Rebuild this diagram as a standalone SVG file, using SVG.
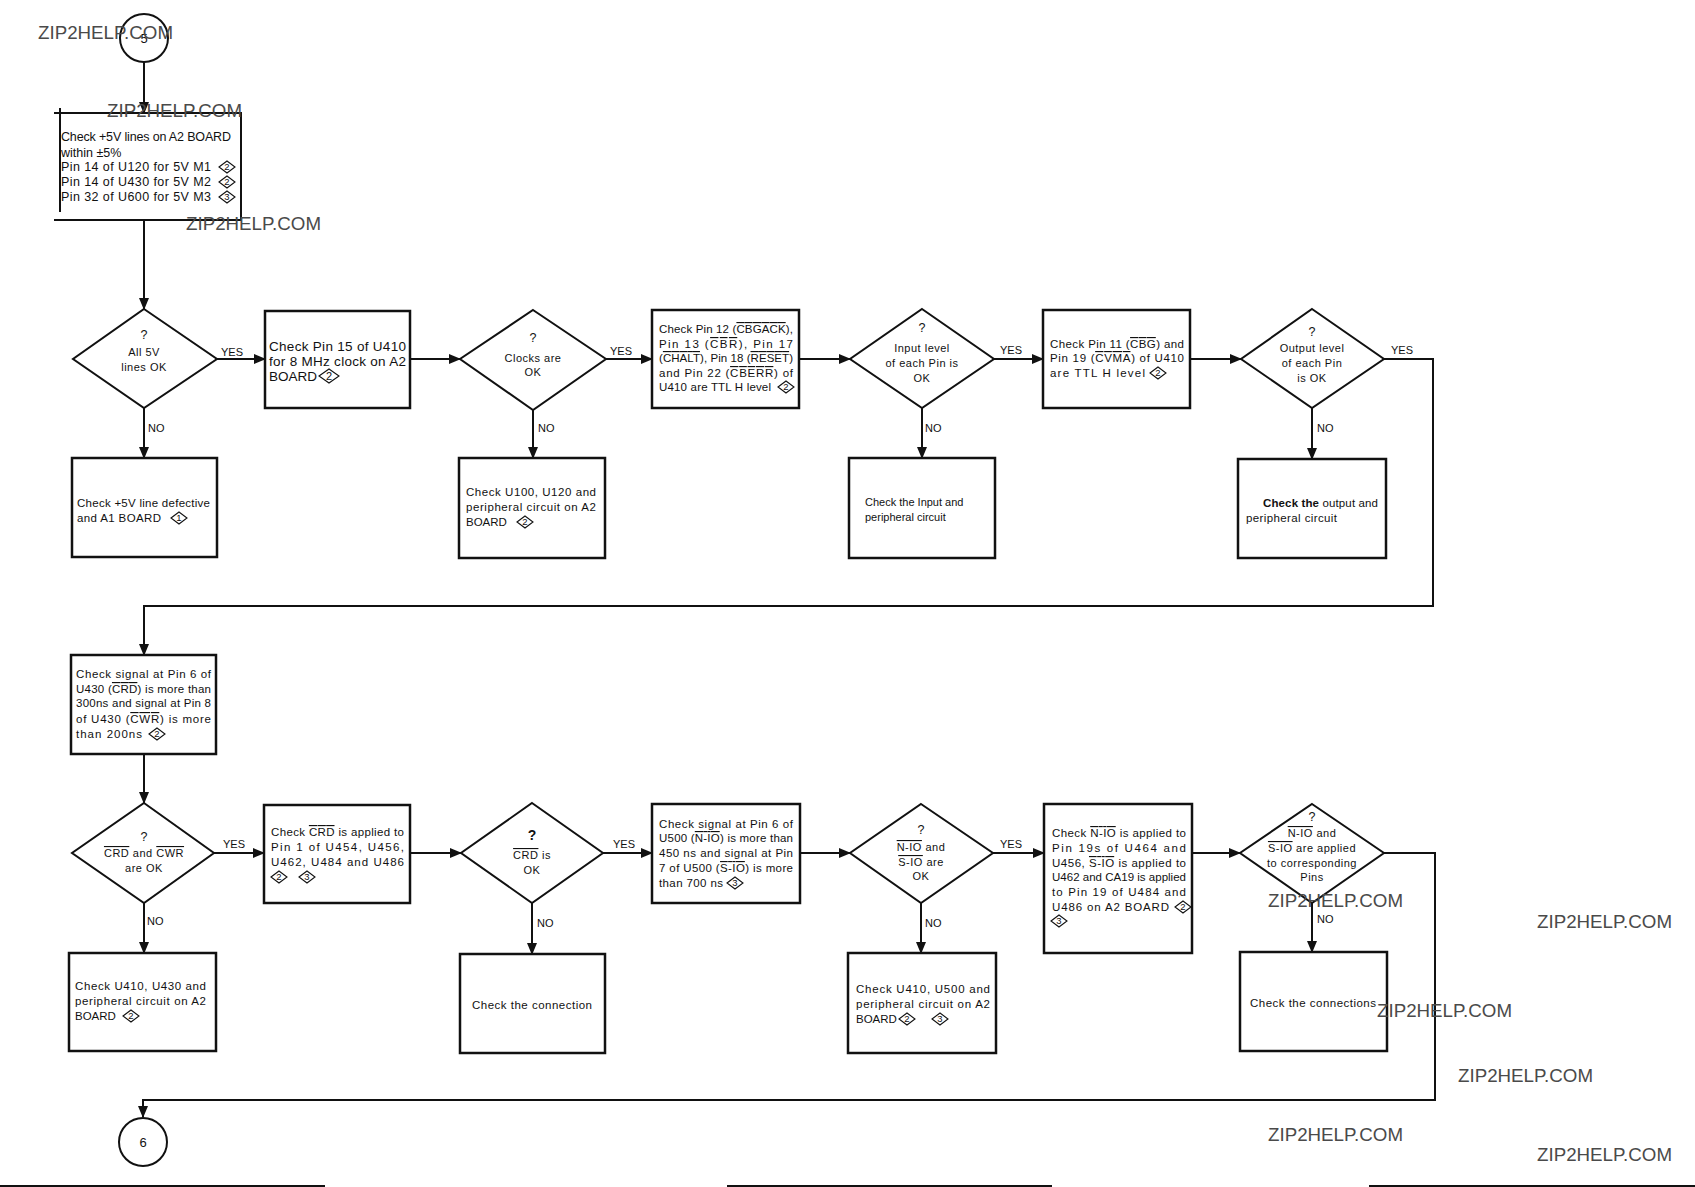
<svg xmlns="http://www.w3.org/2000/svg" width="1695" height="1187" viewBox="0 0 1695 1187">
<style>
text{font-family:"Liberation Sans",Arial,Helvetica,sans-serif;fill:#111}
.t{font-size:11.5px}
.t1{font-size:12.5px}
.t2{font-size:13.5px}
.dt{font-size:11px;text-anchor:middle;letter-spacing:0.5px}
.q{font-size:12.5px;text-anchor:middle}
.lb{font-size:11px}
.box{fill:#fff;stroke:#111;stroke-width:2.5}
.dia{fill:#fff;stroke:#111;stroke-width:2}
.cir{fill:#fff;stroke:#111;stroke-width:2}
.bd polygon{fill:#fff;stroke:#111;stroke-width:1.1}
.bd text{font-size:9.5px;text-anchor:middle}
.ov{text-decoration:overline}
#connectors path{fill:none;stroke:#111;stroke-width:2}
.edge{fill:none;stroke:#111;stroke-width:2}
.wm{font-size:18.5px;fill:#4a4a4a}
</style>
<defs>
<marker id="ah" markerWidth="12" markerHeight="10" refX="11" refY="5" orient="auto" markerUnits="userSpaceOnUse"><path d="M0,0 L12,5 L0,10 z" fill="#111"/></marker>
</defs>
<rect width="1695" height="1187" fill="#fff"/>

<g id="connectors">
<path d="M144 62 V113" marker-end="url(#ah)"/>
<path d="M144 220 V309" marker-end="url(#ah)"/>
<path d="M217 359 H265" marker-end="url(#ah)"/>
<path d="M144 408 V458" marker-end="url(#ah)"/>
<path d="M410 359 H460" marker-end="url(#ah)"/>
<path d="M606 359 H652" marker-end="url(#ah)"/>
<path d="M533 410 V458" marker-end="url(#ah)"/>
<path d="M799 359 H850" marker-end="url(#ah)"/>
<path d="M994 359 H1043" marker-end="url(#ah)"/>
<path d="M922 408 V458" marker-end="url(#ah)"/>
<path d="M1190 359 H1241" marker-end="url(#ah)"/>
<path d="M1312 408 V459" marker-end="url(#ah)"/>
<path d="M1384 359 H1433 V606 H144 V655" marker-end="url(#ah)"/>
<path d="M144 754 V803" marker-end="url(#ah)"/>
<path d="M214 853 H264" marker-end="url(#ah)"/>
<path d="M144 903 V953" marker-end="url(#ah)"/>
<path d="M410 853 H461" marker-end="url(#ah)"/>
<path d="M603 853 H652" marker-end="url(#ah)"/>
<path d="M532 903 V954" marker-end="url(#ah)"/>
<path d="M800 853 H850" marker-end="url(#ah)"/>
<path d="M993 853 H1044" marker-end="url(#ah)"/>
<path d="M921 903 V953" marker-end="url(#ah)"/>
<path d="M1192 853 H1240" marker-end="url(#ah)"/>
<path d="M1312 903 V952" marker-end="url(#ah)"/>
<path d="M1384 853 H1435 V1100 H143 V1117" marker-end="url(#ah)"/>
<text class="lb" x="221" y="356">YES</text>
<text class="lb" x="610" y="355">YES</text>
<text class="lb" x="1000" y="354">YES</text>
<text class="lb" x="1391" y="354">YES</text>
<text class="lb" x="223" y="848">YES</text>
<text class="lb" x="613" y="848">YES</text>
<text class="lb" x="1000" y="848">YES</text>
<text class="lb" x="148" y="432">NO</text>
<text class="lb" x="538" y="432">NO</text>
<text class="lb" x="925" y="432">NO</text>
<text class="lb" x="1317" y="432">NO</text>
<text class="lb" x="147" y="925">NO</text>
<text class="lb" x="537" y="927">NO</text>
<text class="lb" x="925" y="927">NO</text>
<text class="lb" x="1317" y="923">NO</text>
</g>

<g id="start5">
<circle class="cir" cx="144" cy="38" r="24"/>
<text x="144" y="43" font-size="13" text-anchor="middle">5</text>
</g>

<g id="box-check5v">
<path class="edge" d="M54 113 H241 V220 H54 M60 108 V212" stroke-width="2.5"/>
<text class="t1" x="61" y="141" textLength="170" lengthAdjust="spacing">Check +5V lines on A2 BOARD</text>
<text class="t1" x="61" y="157">within ±5%</text>
<text class="t1" x="61" y="171" textLength="150" lengthAdjust="spacing">Pin 14 of U120 for 5V M1</text>
<text class="t1" x="61" y="186" textLength="150" lengthAdjust="spacing">Pin 14 of U430 for 5V M2</text>
<text class="t1" x="61" y="201" textLength="150" lengthAdjust="spacing">Pin 32 of U600 for 5V M3</text>
<g class="bd" transform="translate(227,167)"><polygon points="-8,0 0,-6 8,0 0,6"/><text y="3.3">2</text></g>
<g class="bd" transform="translate(227,182)"><polygon points="-8,0 0,-6 8,0 0,6"/><text y="3.3">2</text></g>
<g class="bd" transform="translate(227,197)"><polygon points="-8,0 0,-6 8,0 0,6"/><text y="3.3">3</text></g>
</g>

<g id="dec-all5v">
<polygon class="dia" points="144,309 217,359 144,408 73,359"/>
<text class="q" x="144" y="339">?</text>
<text class="dt" x="144" y="356">All 5V</text>
<text class="dt" x="144" y="371">lines OK</text>
</g>

<g id="box-5vdefective">
<rect class="box" x="72" y="458" width="145" height="99"/>
<text class="t" x="77" y="507" textLength="133" lengthAdjust="spacing">Check +5V line defective</text>
<text class="t" x="77" y="522" textLength="84" lengthAdjust="spacing">and A1 BOARD</text>
<g class="bd" transform="translate(179,518)"><polygon points="-8,0 0,-6 8,0 0,6"/><text y="3.3">1</text></g>
</g>

<g id="box-pin15">
<rect class="box" x="265" y="311" width="145" height="97"/>
<text class="t2" x="269" y="351" textLength="137" lengthAdjust="spacing">Check Pin 15 of U410</text>
<text class="t2" x="269" y="366" textLength="137" lengthAdjust="spacing">for 8 MHz clock on A2</text>
<text class="t2" x="269" y="381">BOARD</text>
<g class="bd" transform="translate(329,376)"><polygon points="-10,0 0,-7 10,0 0,7"/><text y="3.8" style="font-size:11px">2</text></g>
</g>

<g id="dec-clocks">
<polygon class="dia" points="533,310 606,359 533,410 460,359"/>
<text class="q" x="533" y="342">?</text>
<text class="dt" x="533" y="362">Clocks are</text>
<text class="dt" x="533" y="376">OK</text>
</g>

<g id="box-u100">
<rect class="box" x="459" y="458" width="146" height="100"/>
<text class="t" x="466" y="496" textLength="130" lengthAdjust="spacing">Check U100, U120 and</text>
<text class="t" x="466" y="511" textLength="130" lengthAdjust="spacing">peripheral circuit on A2</text>
<text class="t" x="466" y="526">BOARD</text>
<g class="bd" transform="translate(525,522)"><polygon points="-8,0 0,-6 8,0 0,6"/><text y="3.3">2</text></g>
</g>

<g id="box-pin12">
<rect class="box" x="652" y="310" width="147" height="98"/>
<text class="t" x="659" y="333" textLength="134" lengthAdjust="spacing">Check Pin 12 (<tspan class="ov">CBGACK</tspan>),</text>
<text class="t" x="659" y="348" textLength="134" lengthAdjust="spacing">Pin 13 (<tspan class="ov">CBR</tspan>), Pin 17</text>
<text class="t" x="659" y="362" textLength="134" lengthAdjust="spacing">(<tspan class="ov">CHALT</tspan>), Pin 18 (<tspan class="ov">RESET</tspan>)</text>
<text class="t" x="659" y="377" textLength="134" lengthAdjust="spacing">and Pin 22 (<tspan class="ov">CBERR</tspan>) of</text>
<text class="t" x="659" y="391" textLength="112" lengthAdjust="spacing">U410 are TTL H level</text>
<g class="bd" transform="translate(786,387)"><polygon points="-8,0 0,-6 8,0 0,6"/><text y="3.3">2</text></g>
</g>

<g id="dec-input">
<polygon class="dia" points="922,309 994,359 922,408 850,359"/>
<text class="q" x="922" y="332">?</text>
<text class="dt" x="922" y="352">Input level</text>
<text class="dt" x="922" y="367">of each Pin is</text>
<text class="dt" x="922" y="382">OK</text>
</g>

<g id="box-input">
<rect class="box" x="849" y="458" width="146" height="100"/>
<text x="865" y="506" font-size="11">Check the Input and</text>
<text x="865" y="521" font-size="11">peripheral circuit</text>
</g>

<g id="box-pin11">
<rect class="box" x="1043" y="310" width="147" height="98"/>
<text class="t" x="1050" y="348" textLength="134" lengthAdjust="spacing">Check Pin 11 (<tspan class="ov">CBG</tspan>) and</text>
<text class="t" x="1050" y="362" textLength="134" lengthAdjust="spacing">Pin 19 (<tspan class="ov">CVMA</tspan>) of U410</text>
<text class="t" x="1050" y="377" textLength="95" lengthAdjust="spacing">are TTL H level</text>
<g class="bd" transform="translate(1158,373)"><polygon points="-8,0 0,-6 8,0 0,6"/><text y="3.3">2</text></g>
</g>

<g id="dec-output">
<polygon class="dia" points="1312,309 1384,359 1312,408 1241,359"/>
<text class="q" x="1312" y="336">?</text>
<text class="dt" x="1312" y="352">Output level</text>
<text class="dt" x="1312" y="367">of each Pin</text>
<text class="dt" x="1312" y="382">is OK</text>
</g>

<g id="box-output">
<rect class="box" x="1238" y="459" width="148" height="99"/>
<text class="t" x="1263" y="507" textLength="115" lengthAdjust="spacing"><tspan font-weight="bold">Check the</tspan> output and</text>
<text class="t" x="1246" y="522" textLength="91" lengthAdjust="spacing">peripheral circuit</text>
</g>

<g id="box-signal430">
<rect class="box" x="71" y="655" width="145" height="99"/>
<text class="t" x="76" y="678" textLength="135" lengthAdjust="spacing">Check signal at Pin 6 of</text>
<text class="t" x="76" y="693" textLength="135" lengthAdjust="spacing">U430 (<tspan class="ov">CRD</tspan>) is more than</text>
<text class="t" x="76" y="707" textLength="135" lengthAdjust="spacing">300ns and signal at Pin 8</text>
<text class="t" x="76" y="723" textLength="135" lengthAdjust="spacing">of U430 (<tspan class="ov">CWR</tspan>) is more</text>
<text class="t" x="76" y="738" textLength="66" lengthAdjust="spacing">than 200ns</text>
<g class="bd" transform="translate(157,734)"><polygon points="-8,0 0,-6 8,0 0,6"/><text y="3.3">2</text></g>
</g>

<g id="dec-crdcwr">
<polygon class="dia" points="144,803 214,853 144,903 72,853"/>
<text class="q" x="144" y="841">?</text>
<text class="dt" x="144" y="857"><tspan class="ov">CRD</tspan> and <tspan class="ov">CWR</tspan></text>
<text class="dt" x="144" y="872">are OK</text>
</g>

<g id="box-crdapplied">
<rect class="box" x="264" y="805" width="146" height="98"/>
<text class="t" x="271" y="836" textLength="133" lengthAdjust="spacing">Check <tspan class="ov">CRD</tspan> is applied to</text>
<text class="t" x="271" y="851" textLength="133" lengthAdjust="spacing">Pin 1 of U454, U456,</text>
<text class="t" x="271" y="866" textLength="133" lengthAdjust="spacing">U462, U484 and U486</text>
<g class="bd" transform="translate(279,877)"><polygon points="-8,0 0,-6 8,0 0,6"/><text y="3.3">2</text></g>
<g class="bd" transform="translate(307,877)"><polygon points="-8,0 0,-6 8,0 0,6"/><text y="3.3">3</text></g>
</g>

<g id="box-u410u430">
<rect class="box" x="69" y="953" width="147" height="98"/>
<text class="t" x="75" y="990" textLength="131" lengthAdjust="spacing">Check U410, U430 and</text>
<text class="t" x="75" y="1005" textLength="131" lengthAdjust="spacing">peripheral circuit on A2</text>
<text class="t" x="75" y="1020">BOARD</text>
<g class="bd" transform="translate(131,1016)"><polygon points="-8,0 0,-6 8,0 0,6"/><text y="3.3">2</text></g>
</g>

<g id="dec-crd">
<polygon class="dia" points="532,803 603,853 532,903 461,853"/>
<text x="532" y="840" font-size="14" font-weight="bold" text-anchor="middle">?</text>
<text class="dt" x="532" y="859"><tspan class="ov">CRD</tspan> is</text>
<text class="dt" x="532" y="874">OK</text>
</g>

<g id="box-connection">
<rect class="box" x="460" y="954" width="145" height="99"/>
<text class="t" x="472" y="1009" textLength="120" lengthAdjust="spacing">Check the connection</text>
</g>

<g id="box-signal500">
<rect class="box" x="652" y="804" width="148" height="99"/>
<text class="t" x="659" y="828" textLength="134" lengthAdjust="spacing">Check signal at Pin 6 of</text>
<text class="t" x="659" y="842" textLength="134" lengthAdjust="spacing">U500 (<tspan class="ov">N-IO</tspan>) is more than</text>
<text class="t" x="659" y="857" textLength="134" lengthAdjust="spacing">450 ns and signal at Pin</text>
<text class="t" x="659" y="872" textLength="134" lengthAdjust="spacing">7 of U500 (<tspan class="ov">S-IO</tspan>) is more</text>
<text class="t" x="659" y="887" textLength="64" lengthAdjust="spacing">than 700 ns</text>
<g class="bd" transform="translate(735,883)"><polygon points="-8,0 0,-6 8,0 0,6"/><text y="3.3">3</text></g>
</g>

<g id="dec-nioSio">
<polygon class="dia" points="921,804 993,853 921,903 850,853"/>
<text class="q" x="921" y="834">?</text>
<text class="dt" x="921" y="851"><tspan class="ov">N-IO</tspan> and</text>
<text class="dt" x="921" y="866"><tspan class="ov">S-IO</tspan> are</text>
<text class="dt" x="921" y="880">OK</text>
</g>

<g id="box-nioapplied">
<rect class="box" x="1044" y="804" width="148" height="149"/>
<text class="t" x="1052" y="837" textLength="134" lengthAdjust="spacing">Check <tspan class="ov">N-IO</tspan> is applied to</text>
<text class="t" x="1052" y="852" textLength="134" lengthAdjust="spacing">Pin 19s of U464 and</text>
<text class="t" x="1052" y="867" textLength="134" lengthAdjust="spacing">U456, <tspan class="ov">S-IO</tspan> is applied to</text>
<text class="t" x="1052" y="881" textLength="134" lengthAdjust="spacing">U462 and CA19 is applied</text>
<text class="t" x="1052" y="896" textLength="134" lengthAdjust="spacing">to Pin 19 of U484 and</text>
<text class="t" x="1052" y="911" textLength="117" lengthAdjust="spacing">U486 on A2 BOARD</text>
<g class="bd" transform="translate(1183,907)"><polygon points="-8,0 0,-6 8,0 0,6"/><text y="3.3">2</text></g>
<g class="bd" transform="translate(1059,921)"><polygon points="-8,0 0,-6 8,0 0,6"/><text y="3.3">3</text></g>
</g>

<g id="box-u410u500">
<rect class="box" x="848" y="953" width="148" height="100"/>
<text class="t" x="856" y="993" textLength="134" lengthAdjust="spacing">Check U410, U500 and</text>
<text class="t" x="856" y="1008" textLength="134" lengthAdjust="spacing">peripheral circuit on A2</text>
<text class="t" x="856" y="1023">BOARD</text>
<g class="bd" transform="translate(907,1019)"><polygon points="-8,0 0,-6 8,0 0,6"/><text y="3.3">2</text></g>
<g class="bd" transform="translate(940,1019)"><polygon points="-8,0 0,-6 8,0 0,6"/><text y="3.3">3</text></g>
</g>

<g id="dec-applied">
<polygon class="dia" points="1312,804 1384,853 1312,903 1240,853"/>
<text class="q" x="1312" y="821">?</text>
<text class="dt" x="1312" y="837"><tspan class="ov">N-IO</tspan> and</text>
<text class="dt" x="1312" y="852"><tspan class="ov">S-IO</tspan> are applied</text>
<text class="dt" x="1312" y="867">to corresponding</text>
<text class="dt" x="1312" y="881">Pins</text>
</g>

<g id="box-connections">
<rect class="box" x="1240" y="952" width="147" height="99"/>
<text class="t" x="1250" y="1007" textLength="126" lengthAdjust="spacing">Check the connections</text>
</g>

<g id="end6">
<circle class="cir" cx="143" cy="1142" r="24"/>
<text x="143" y="1147" font-size="13" text-anchor="middle">6</text>
</g>

<g id="page-edges">
<path class="edge" d="M0 1186 H325 M727 1186 H1052 M1369 1186 H1695"/>
</g>

<g id="watermarks">
<text class="wm" x="38" y="39" textLength="135" lengthAdjust="spacingAndGlyphs">ZIP2HELP.COM</text>
<text class="wm" x="107" y="117" textLength="135" lengthAdjust="spacingAndGlyphs">ZIP2HELP.COM</text>
<text class="wm" x="186" y="230" textLength="135" lengthAdjust="spacingAndGlyphs">ZIP2HELP.COM</text>
<text class="wm" x="1268" y="907" textLength="135" lengthAdjust="spacingAndGlyphs">ZIP2HELP.COM</text>
<text class="wm" x="1537" y="928" textLength="135" lengthAdjust="spacingAndGlyphs">ZIP2HELP.COM</text>
<text class="wm" x="1377" y="1017" textLength="135" lengthAdjust="spacingAndGlyphs">ZIP2HELP.COM</text>
<text class="wm" x="1458" y="1082" textLength="135" lengthAdjust="spacingAndGlyphs">ZIP2HELP.COM</text>
<text class="wm" x="1268" y="1141" textLength="135" lengthAdjust="spacingAndGlyphs">ZIP2HELP.COM</text>
<text class="wm" x="1537" y="1161" textLength="135" lengthAdjust="spacingAndGlyphs">ZIP2HELP.COM</text>
</g>
</svg>
